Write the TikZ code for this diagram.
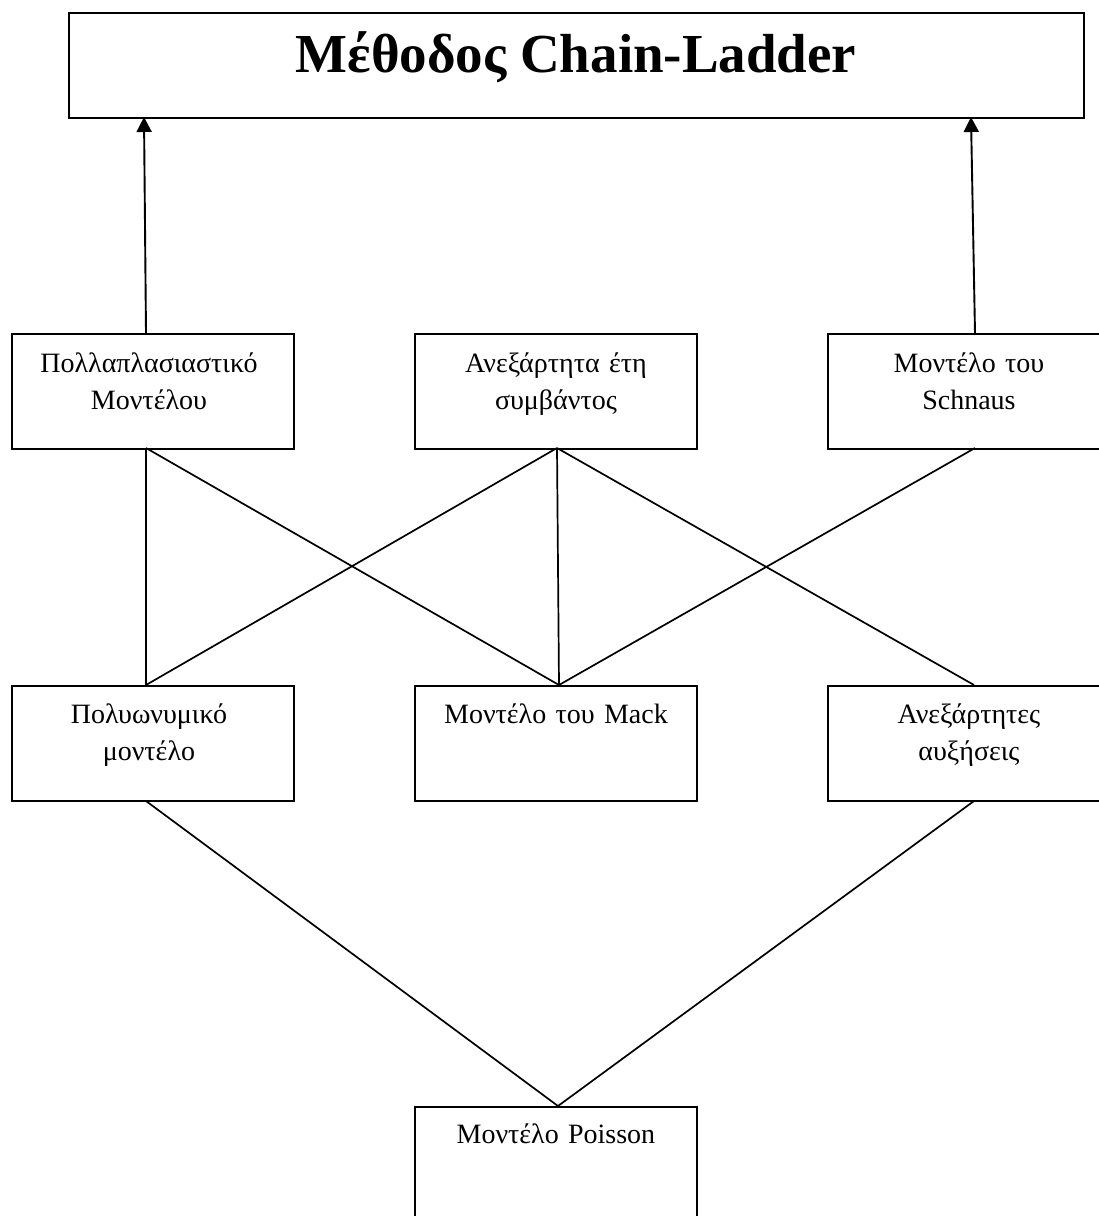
\documentclass[tikz,border=0pt]{standalone}
\usepackage{fontspec}
\setmainfont{Liberation Serif}
\usetikzlibrary{arrows.meta,calc}
\begin{document}
\begin{tikzpicture}[x=1pt,y=-1pt,
  box/.style={draw, line width=1.9pt, inner sep=0pt, anchor=north west,
    minimum width=282pt, minimum height=115pt},
  txt/.style={anchor=base, inner sep=0pt, text width=282pt, align=center,
    font=\fontsize{28}{37}\selectfont},
  conn/.style={line width=1.7pt},
  arr/.style={line width=1.9pt, -{Triangle[width=15pt,length=15pt]}}]
\useasboundingbox (0,0) rectangle (1099,1216);
\clip (0,0) rectangle (1099,1216);
% title
\node[draw, line width=1.9pt, inner sep=0pt, anchor=north west,
  minimum width=1015pt, minimum height=105pt] (cl) at (68,12) {};
\node[anchor=base, inner sep=0pt, font=\bfseries\fontsize{55}{60}\selectfont]
  (clt) at (576,72) {Μέθοδος Chain-Ladder};
% row 2
\node[box] (pm) at (11,333) {};
\node[box] (ind) at (414,333) {};
\node[box] (sch) at (827,333) {};
\node[txt] (pmt) at ($(pm.north)+(-4,39)$) {Πολλαπλασιαστικό\\Μοντέλου};
\node[txt] (indt) at ($(ind.north)+(0,39)$) {Ανεξάρτητα έτη\\συμβάντος};
\node[txt] (scht) at ($(sch.north)+(0,39)$) {Μοντέλο του\\Schnaus};
% row 3
\node[box] (pol) at (11,685) {};
\node[box] (mack) at (414,685) {};
\node[box] (anx) at (827,685) {};
\node[txt] (polt) at ($(pol.north)+(-4,38)$) {Πολυωνυμικό\\μοντέλο};
\node[txt] (mackt) at ($(mack.north)+(0,38)$) {Μοντέλο του Mack};
\node[txt] (anxt) at ($(anx.north)+(0,38)$) {Ανεξάρτητες\\αυξήσεις};
% bottom
\node[box] (poi) at (414,1106) {};
\node[txt] (poit) at ($(poi.north)+(0,37)$) {Μοντέλο Poisson};
% attachment points
\coordinate (pmT) at (146,333);
\coordinate (pmB) at (146,448);
\coordinate (schT) at (975,333);
\coordinate (schB) at (975,448);
\coordinate (indB) at (557,448);
\coordinate (clL) at (144,117);
\coordinate (clR) at (971,117);
\coordinate (polT) at (146,685);
\coordinate (polB) at (146,801);
\coordinate (mackT) at (559,685);
\coordinate (anxT) at (974,685);
\coordinate (anxB) at (974,801);
\coordinate (poiT) at (558,1106);
% arrows
\draw[arr] (pmT) -- (clL);
\draw[arr] (schT) -- (clR);
% connectors
\draw[conn] (pmB) -- (polT);
\draw[conn] (pmB) -- (mackT);
\draw[conn] (indB) -- (polT);
\draw[conn] (indB) -- (mackT);
\draw[conn] (indB) -- (anxT);
\draw[conn] (schB) -- (mackT);
\draw[conn] (polB) -- (poiT);
\draw[conn] (anxB) -- (poiT);
\end{tikzpicture}
\end{document}
